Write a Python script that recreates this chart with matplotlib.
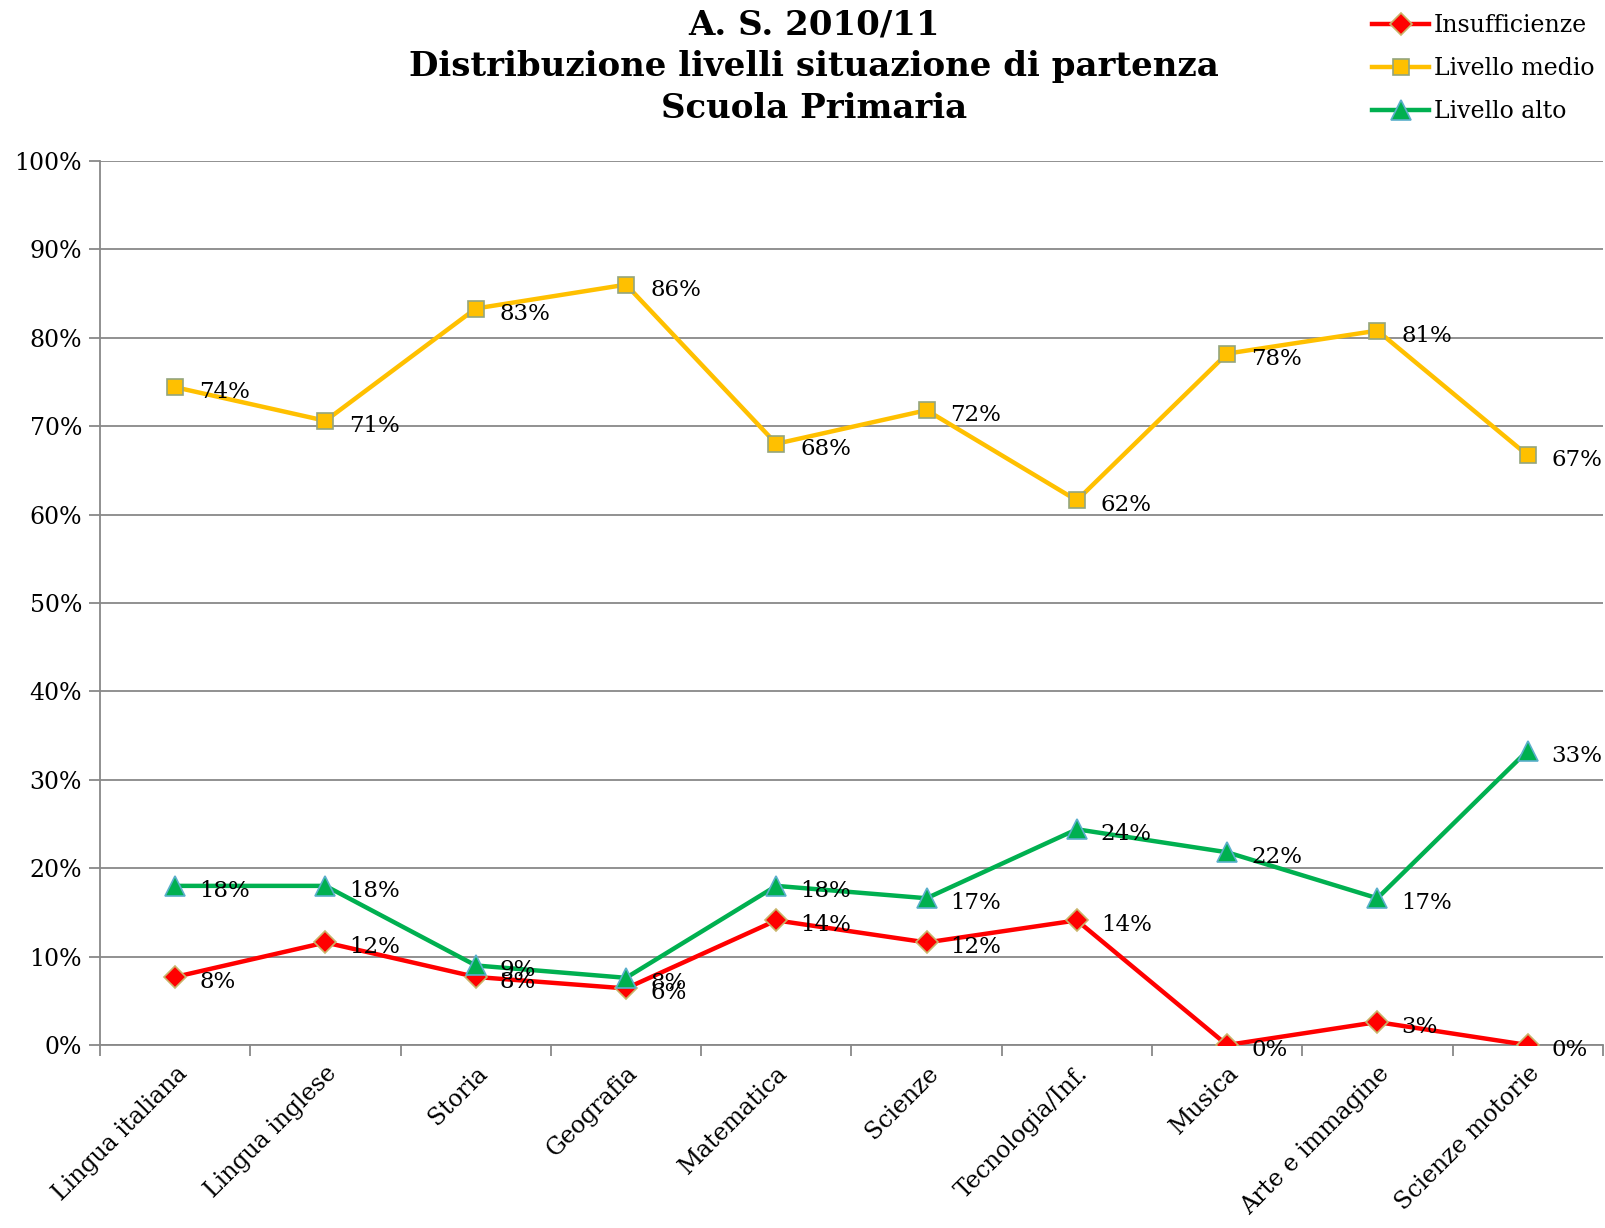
import numpy as np
import matplotlib
matplotlib.use('Agg')
import matplotlib.pyplot as plt

# data (percent)
materie = ['Lingua italiana', 'Lingua inglese', 'Storia', 'Geografia', 'Matematica',
           'Scienze', 'Tecnologia/Inf.', 'Musica', 'Arte e immagine', 'Scienze motorie']
insufficienze = [7.7, 11.6, 7.7, 6.4, 14.1, 11.6, 14.1, 0.0, 2.6, 0.0]
livello_medio = [74.4, 70.6, 83.3, 86.0, 68.0, 71.8, 61.6, 78.2, 80.8, 66.7]
livello_alto = [18.0, 18.0, 9.0, 7.6, 18.0, 16.6, 24.4, 21.8, 16.6, 33.3]

plt.rcParams['font.family'] = ['DejaVu Serif']

fig = plt.figure(figsize=(16.06, 12.28), dpi=100)
ax = fig.add_axes([0.0623, 0.149, 0.9357, 0.72])

x = np.arange(len(materie))
series = [
    (insufficienze, 'Insufficienze', '#FF0000', 'D', '#C9B46A', 11),
    (livello_medio, 'Livello medio', '#FFC000', 's', '#93A57E', 12),
    (livello_alto, 'Livello alto', '#00B050', '^', '#5BAFCB', 14),
]
for vals, name, col, mk, edge, ms in series:
    ax.plot(x, vals, color=col, lw=3.2, marker=mk, ms=ms, markerfacecolor=col,
            markeredgecolor=edge, markeredgewidth=1.2, label=name, zorder=3)
    for xi, v in zip(x, vals):
        ax.annotate('%d%%' % round(v), (xi, v), xytext=(24, -5),
                    textcoords='offset pixels', ha='left', va='center',
                    fontsize=16.5, color='black', zorder=4)

ax.set_xlim(-0.5, len(materie) - 0.5)
ax.set_ylim(0, 100)
ax.set_yticks(np.arange(0, 101, 10))
ax.set_yticklabels(['%d%%' % t for t in range(0, 101, 10)], fontsize=17)
ax.yaxis.grid(True, color='#888888', lw=1.3)
ax.set_axisbelow(True)

ax.set_xticks(x)
ax.set_xticklabels(materie, rotation=45, ha='right', rotation_mode='anchor', fontsize=17)
ax.tick_params(axis='x', length=0, pad=12)
ax.set_xticks(np.arange(-0.5, len(materie), 1), minor=True)
ax.tick_params(axis='x', which='minor', length=8, color='#888888', width=1.3)
ax.tick_params(axis='y', length=8, color='#888888', width=1.3, pad=5)

for s in ['top', 'right']:
    ax.spines[s].set_visible(False)
for s in ['left', 'bottom']:
    ax.spines[s].set_color('#888888')
    ax.spines[s].set_linewidth(1.3)

fig.text(0.507, 0.993, 'A. S. 2010/11\nDistribuzione livelli situazione di partenza\nScuola Primaria',
         ha='center', va='top', fontsize=24.5, fontweight='bold', linespacing=1.33)

fig.legend(loc='upper right', bbox_to_anchor=(1.006, 1.006), frameon=False, fontsize=17,
           handlelength=2.4, labelspacing=0.85, handletextpad=0.2)

fig.savefig('out.png', dpi=100)
